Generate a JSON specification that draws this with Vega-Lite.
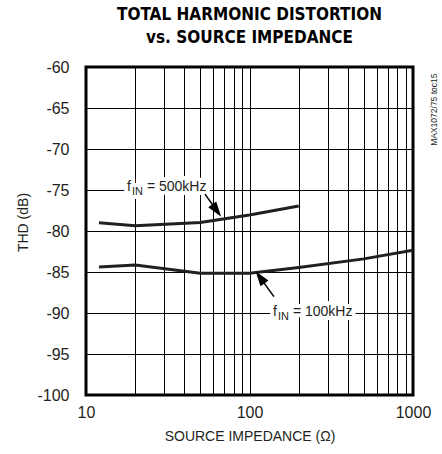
{
  "$schema": "https://vega.github.io/schema/vega-lite/v6.json",
  "autosize": {"type": "none"},
  "padding": {"left": 86, "top": 67, "right": 29, "bottom": 59},
  "width": 327,
  "height": 328,
  "background": "white",
  "config": {
    "font": "Liberation Sans",
    "view": {"stroke": "#000", "strokeWidth": 3},
    "axis": {
      "domain": false,
      "ticks": false,
      "tickSize": 0,
      "grid": true,
      "gridColor": "#000",
      "gridWidth": 1,
      "gridOpacity": 1,
      "labelFont": "Liberation Sans",
      "labelFontSize": 16,
      "labelColor": "#231f20",
      "titleFont": "Liberation Sans",
      "titleFontSize": 14,
      "titleFontWeight": "normal",
      "titleColor": "#231f20"
    }
  },
  "title": {
    "text": ["TOTAL HARMONIC DISTORTION", "vs. SOURCE IMPEDANCE"],
    "font": "DejaVu Sans Condensed",
    "fontSize": 17,
    "fontWeight": "bold",
    "lineHeight": 23,
    "color": "#000",
    "anchor": "middle",
    "offset": 12
  },
  "datasets": {
    "curves": [
      {"series": "500kHz", "r": 12, "thd": -79.0},
      {"series": "500kHz", "r": 20, "thd": -79.35},
      {"series": "500kHz", "r": 50, "thd": -78.95},
      {"series": "500kHz", "r": 100, "thd": -78.05},
      {"series": "500kHz", "r": 200, "thd": -76.95},
      {"series": "100kHz", "r": 12, "thd": -84.4},
      {"series": "100kHz", "r": 20, "thd": -84.15},
      {"series": "100kHz", "r": 50, "thd": -85.15},
      {"series": "100kHz", "r": 100, "thd": -85.15},
      {"series": "100kHz", "r": 200, "thd": -84.45},
      {"series": "100kHz", "r": 500, "thd": -83.4},
      {"series": "100kHz", "r": 1000, "thd": -82.35}
    ],
    "labels": [
      {"r": 17.8, "thd": -75.1, "f": "f", "sub": "IN", "rest": "= 500kHz"},
      {"r": 139, "thd": -90.4, "f": "f", "sub": "IN", "rest": "= 100kHz"}
    ],
    "leaders": [
      {"r": 53.4, "thd": -75.5, "r2": 63.0, "thd2": -77.5},
      {"r": 141, "thd": -88.0, "r2": 116, "thd2": -85.65}
    ],
    "head500": [{"r": 63.0, "thd": -77.5}],
    "head100": [{"r": 116, "thd": -85.65}],
    "note": [{"r": 1343, "thd": -65.2, "text": "MAX1072/75 toc15"}]
  },
  "encoding": {
    "x": {
      "field": "r",
      "type": "quantitative",
      "scale": {"type": "log", "domain": [10, 1000], "nice": false},
      "axis": {
        "values": [10, 20, 30, 40, 50, 60, 70, 80, 90, 100, 200, 300, 400, 500, 600, 700, 800, 900, 1000],
        "labelExpr": "datum.value == 10 || datum.value == 100 || datum.value == 1000 ? '' + datum.value : ''",
        "labelPadding": 9,
        "labelFlush": false,
        "labelOverlap": false,
        "title": "SOURCE IMPEDANCE (Ω)",
        "titlePadding": 9
      }
    },
    "y": {
      "field": "thd",
      "type": "quantitative",
      "scale": {"domain": [-100, -60], "nice": false},
      "axis": {
        "values": [-100, -95, -90, -85, -80, -75, -70, -65, -60],
        "labelExpr": "'' + datum.value",
        "labelPadding": 17,
        "labelFlush": false,
        "title": "THD (dB)",
        "titleAngle": -90,
        "titleX": -63,
        "titleY": 155,
        "titleAlign": "center",
        "titleBaseline": "middle"
      }
    }
  },
  "layer": [
    {
      "data": {"name": "curves"},
      "mark": {"type": "line", "color": "#231f20", "strokeWidth": 3, "clip": true},
      "encoding": {"detail": {"field": "series"}}
    },
    {
      "data": {"name": "labels"},
      "mark": {"type": "text", "align": "left", "baseline": "alphabetic", "fontSize": 14, "fill": "white", "stroke": "white", "strokeWidth": 8, "strokeJoin": "round"},
      "encoding": {"text": {"field": "f"}}
    },
    {
      "data": {"name": "labels"},
      "mark": {"type": "text", "align": "left", "baseline": "alphabetic", "fontSize": 11, "dx": 5, "dy": 4, "fill": "white", "stroke": "white", "strokeWidth": 8, "strokeJoin": "round"},
      "encoding": {"text": {"field": "sub"}}
    },
    {
      "data": {"name": "labels"},
      "mark": {"type": "text", "align": "left", "baseline": "alphabetic", "fontSize": 14, "dx": 20, "fill": "white", "stroke": "white", "strokeWidth": 8, "strokeJoin": "round"},
      "encoding": {"text": {"field": "rest"}}
    },
    {
      "data": {"name": "labels"},
      "mark": {"type": "text", "align": "left", "baseline": "alphabetic", "fontSize": 14, "color": "#231f20"},
      "encoding": {"text": {"field": "f"}}
    },
    {
      "data": {"name": "labels"},
      "mark": {"type": "text", "align": "left", "baseline": "alphabetic", "fontSize": 11, "dx": 5, "dy": 4, "color": "#231f20"},
      "encoding": {"text": {"field": "sub"}}
    },
    {
      "data": {"name": "labels"},
      "mark": {"type": "text", "align": "left", "baseline": "alphabetic", "fontSize": 14, "dx": 20, "color": "#231f20"},
      "encoding": {"text": {"field": "rest"}}
    },
    {
      "data": {"name": "leaders"},
      "mark": {"type": "rule", "color": "#000", "strokeWidth": 1.5},
      "encoding": {"x2": {"field": "r2"}, "y2": {"field": "thd2"}}
    },
    {
      "data": {"name": "head500"},
      "mark": {"type": "point", "shape": "M0,-1L0.65,1L-0.65,1Z", "filled": true, "color": "#000", "opacity": 1, "size": 230, "angle": 144}
    },
    {
      "data": {"name": "head100"},
      "mark": {"type": "point", "shape": "M0,-1L0.65,1L-0.65,1Z", "filled": true, "color": "#000", "opacity": 1, "size": 230, "angle": 324}
    },
    {
      "data": {"name": "note"},
      "mark": {"type": "text", "angle": 270, "align": "center", "baseline": "middle", "fontSize": 8.5, "color": "#231f20", "font": "Liberation Sans"},
      "encoding": {"text": {"field": "text"}}
    }
  ]
}
